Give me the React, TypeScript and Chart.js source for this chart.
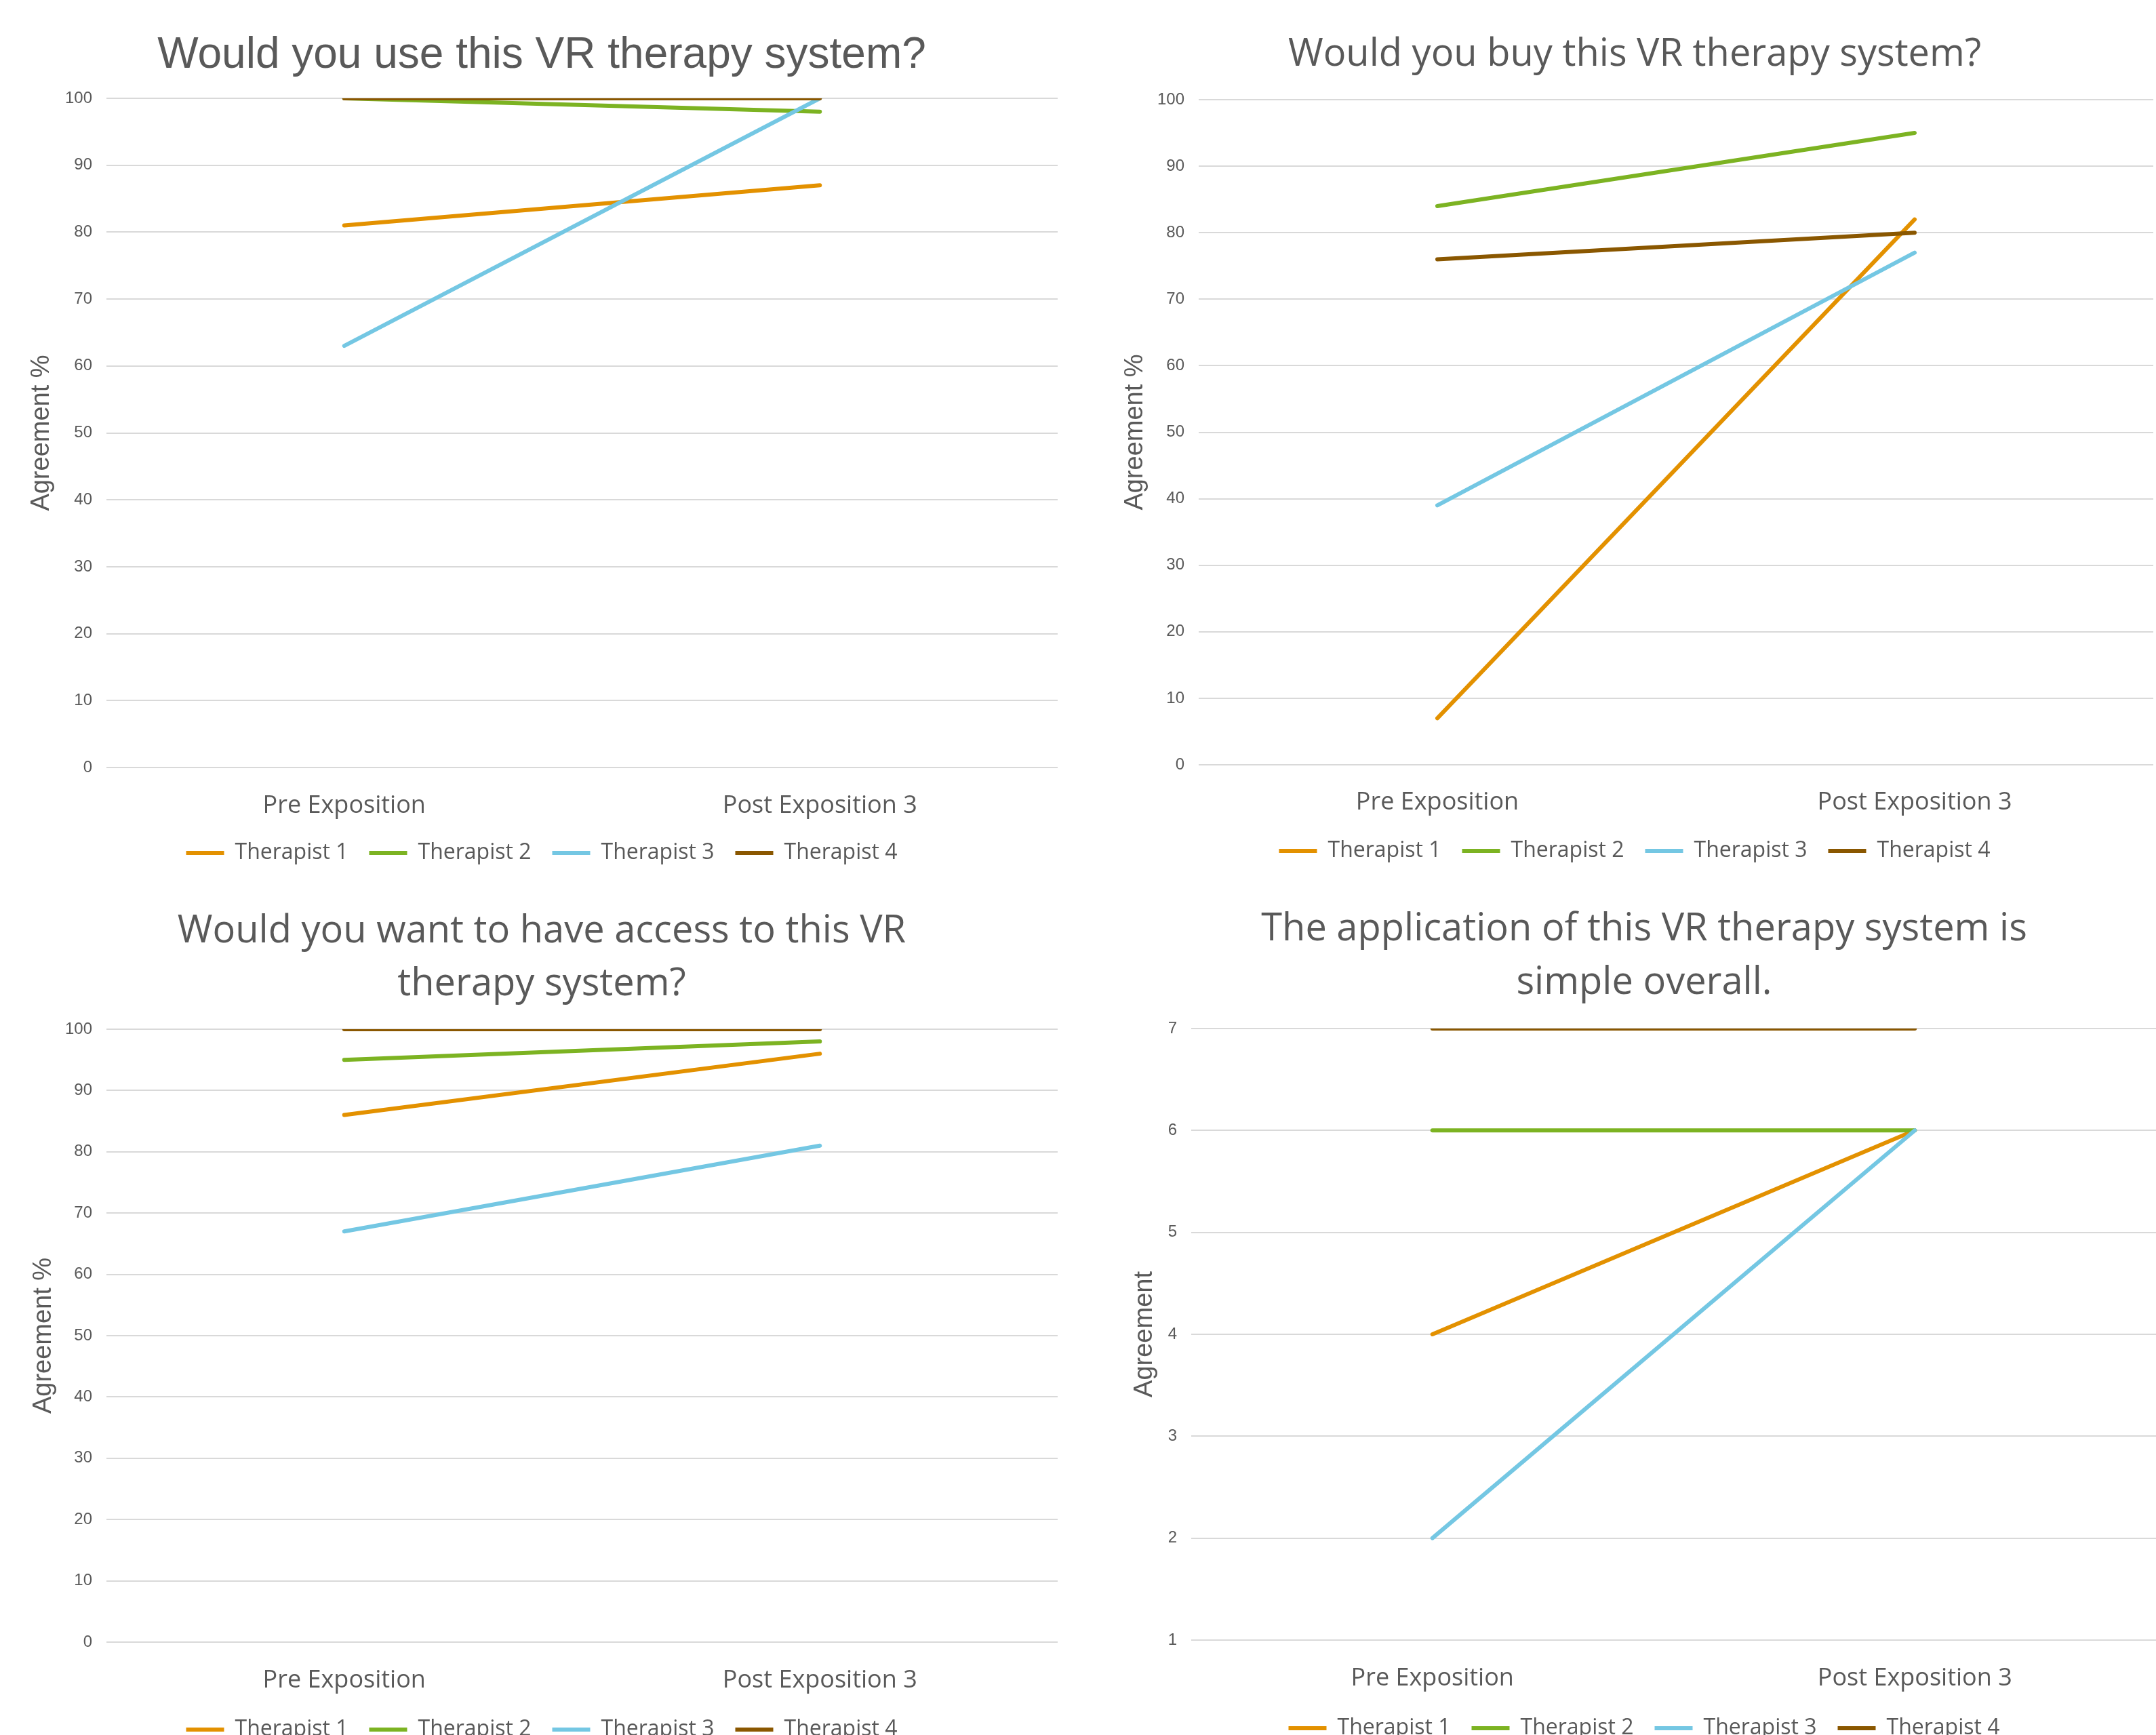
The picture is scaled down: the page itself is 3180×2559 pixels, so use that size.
import React, { useEffect, useRef } from 'react';
import { Chart, registerables } from 'chart.js';

Chart.register(...registerables);

// ---------- data ----------
const categories = ['Pre Exposition', 'Post Exposition 3'];
const seriesNames = ['Therapist 1', 'Therapist 2', 'Therapist 3', 'Therapist 4'];
const seriesColors = ['#E39100', '#7CB322', '#74C7E3', '#8A5700'];

// Would you use this VR therapy system? (Agreement %)
const useT1 = [81, 87];
const useT2 = [100, 98];
const useT3 = [63, 100];
const useT4 = [100, 100];

// Would you buy this VR therapy system? (Agreement %)
const buyT1 = [7, 82];
const buyT2 = [84, 95];
const buyT3 = [39, 77];
const buyT4 = [76, 80];

// Would you want to have access to this VR therapy system? (Agreement %)
const accessT1 = [86, 96];
const accessT2 = [95, 98];
const accessT3 = [67, 81];
const accessT4 = [100, 100];

// The application of this VR therapy system is simple overall. (Agreement 1-7)
const simpleT1 = [4, 6];
const simpleT2 = [6, 6];
const simpleT3 = [2, 6];
const simpleT4 = [7, 7];

const TEXT = '#595959';
const GRID = '#D9D9D9';

type Panel = {
  left: number; top: number; width: number; height: number;
  title: string | string[];
  titleFamily: string; titleSize: number; titleLH: number;
  titlePadTop: number; titlePadBottom: number;
  padL: number; padR: number; padB: number;
  yWidth: number; yTitle: string; yTitlePad: number; yTitleLH: number;
  yMin: number; yMax: number; yStep: number;
  xHeight: number; xPad: number;
  values: number[][];
};

const panels: Panel[] = [
  {
    left: 0, top: 0, width: 1590, height: 1290,
    title: 'Would you use this VR therapy system?',
    titleFamily: 'Liberation Sans', titleSize: 64, titleLH: 1.2,
    titlePadTop: 44.4, titlePadBottom: 23.8,
    padL: 38, padR: 30, padB: 6,
    yWidth: 119, yTitle: 'Agreement %', yTitlePad: 1.2, yTitleLH: 1.2,
    yMin: 0, yMax: 100, yStep: 10,
    xHeight: 79, xPad: 35,
    values: [useT1, useT2, useT3, useT4],
  },
  {
    left: 1590, top: 0, width: 1590, height: 1290,
    title: 'Would you buy this VR therapy system?',
    titleFamily: 'Open Sans', titleSize: 56, titleLH: 1.2,
    titlePadTop: 47.7, titlePadBottom: 32.1,
    padL: 56, padR: 4, padB: 9,
    yWidth: 122, yTitle: 'Agreement %', yTitlePad: 6.2, yTitleLH: 1.2,
    yMin: 0, yMax: 100, yStep: 10,
    xHeight: 80, xPad: 34,
    values: [buyT1, buyT2, buyT3, buyT4],
  },
  {
    left: 0, top: 1290, width: 1590, height: 1300,
    title: ['Would you want to have access to this VR', 'therapy system?'],
    titleFamily: 'Open Sans', titleSize: 56, titleLH: 1.39,
    titlePadTop: 45.4, titlePadBottom: 26.9,
    padL: 38, padR: 30, padB: 13,
    yWidth: 119, yTitle: 'Agreement %', yTitlePad: 4, yTitleLH: 1.2,
    yMin: 0, yMax: 100, yStep: 10,
    xHeight: 82, xPad: 35,
    values: [accessT1, accessT2, accessT3, accessT4],
  },
  {
    left: 1590, top: 1290, width: 1590, height: 1300,
    title: ['The application of this VR therapy system is', 'simple overall.'],
    titleFamily: 'Open Sans', titleSize: 56, titleLH: 1.41,
    titlePadTop: 41.8, titlePadBottom: 27.2,
    padL: 80, padR: 0, padB: 15,
    yWidth: 87, yTitle: 'Agreement', yTitlePad: 0, yTitleLH: 1.0,
    yMin: 1, yMax: 7, yStep: 1,
    xHeight: 83, xPad: 35,
    values: [simpleT1, simpleT2, simpleT3, simpleT4],
  },
];

function ChartPanel({ p }: { p: Panel }) {
  const ref = useRef<HTMLCanvasElement>(null);
  useEffect(() => {
    if (!ref.current) return;
    const chart = new Chart(ref.current, {
      type: 'line',
      data: {
        labels: categories,
        datasets: p.values.map((v, i) => ({
          label: seriesNames[i],
          data: v,
          borderColor: seriesColors[i],
          backgroundColor: seriesColors[i],
          borderWidth: 6,
          borderCapStyle: 'round',
          pointRadius: 0,
          pointHoverRadius: 0,
          tension: 0,
          fill: false,
          order: 3 - i,
        })),
      },
      options: {
        animation: false,
        responsive: false,
        devicePixelRatio: 1,
        events: [],
        layout: { padding: { left: p.padL, right: p.padR, top: 0, bottom: p.padB } },
        plugins: {
          title: {
            display: true,
            text: p.title,
            color: TEXT,
            font: { family: p.titleFamily, size: p.titleSize, weight: 'normal', lineHeight: p.titleLH },
            padding: { top: p.titlePadTop, bottom: p.titlePadBottom },
          },
          legend: {
            position: 'bottom',
            labels: {
              usePointStyle: true,
              pointStyle: 'line',
              pointStyleWidth: 56,
              padding: 31,
              color: TEXT,
              font: { family: 'Open Sans', size: 32 },
              sort: (a: any, b: any) => a.datasetIndex - b.datasetIndex,
            },
          },
          tooltip: { enabled: false },
        },
        scales: {
          x: {
            offset: true,
            grid: { display: false, drawTicks: false },
            border: { display: false },
            ticks: {
              color: TEXT,
              font: { family: 'Open Sans', size: 36 },
              padding: p.xPad,
              maxRotation: 0,
              autoSkip: false,
            },
            afterFit: (s: any) => { s.height = p.xHeight; },
          },
          y: {
            min: p.yMin,
            max: p.yMax,
            grid: { color: GRID, lineWidth: 2, drawTicks: false },
            border: { display: false },
            ticks: {
              stepSize: p.yStep,
              color: TEXT,
              font: { family: 'Liberation Sans', size: 24 },
              padding: 21,
            },
            title: {
              display: true,
              text: p.yTitle,
              color: TEXT,
              font: { family: 'Liberation Sans', size: 38, lineHeight: p.yTitleLH },
              padding: { top: p.yTitlePad, bottom: 0 },
            },
            afterFit: (s: any) => { s.width = p.yWidth; },
          },
        },
      } as any,
    });
    return () => chart.destroy();
  }, [p]);
  return (
    <canvas
      ref={ref}
      width={p.width}
      height={p.height}
      style={{ position: 'absolute', left: p.left, top: p.top, width: p.width, height: p.height }}
    />
  );
}

export default function App() {
  return (
    <div
      style={{
        position: 'absolute',
        left: 0,
        top: 0,
        width: 3180,
        height: 2559,
        overflow: 'hidden',
        background: '#ffffff',
      }}
    >
      {panels.map((p, i) => (
        <ChartPanel key={i} p={p} />
      ))}
    </div>
  );
}
